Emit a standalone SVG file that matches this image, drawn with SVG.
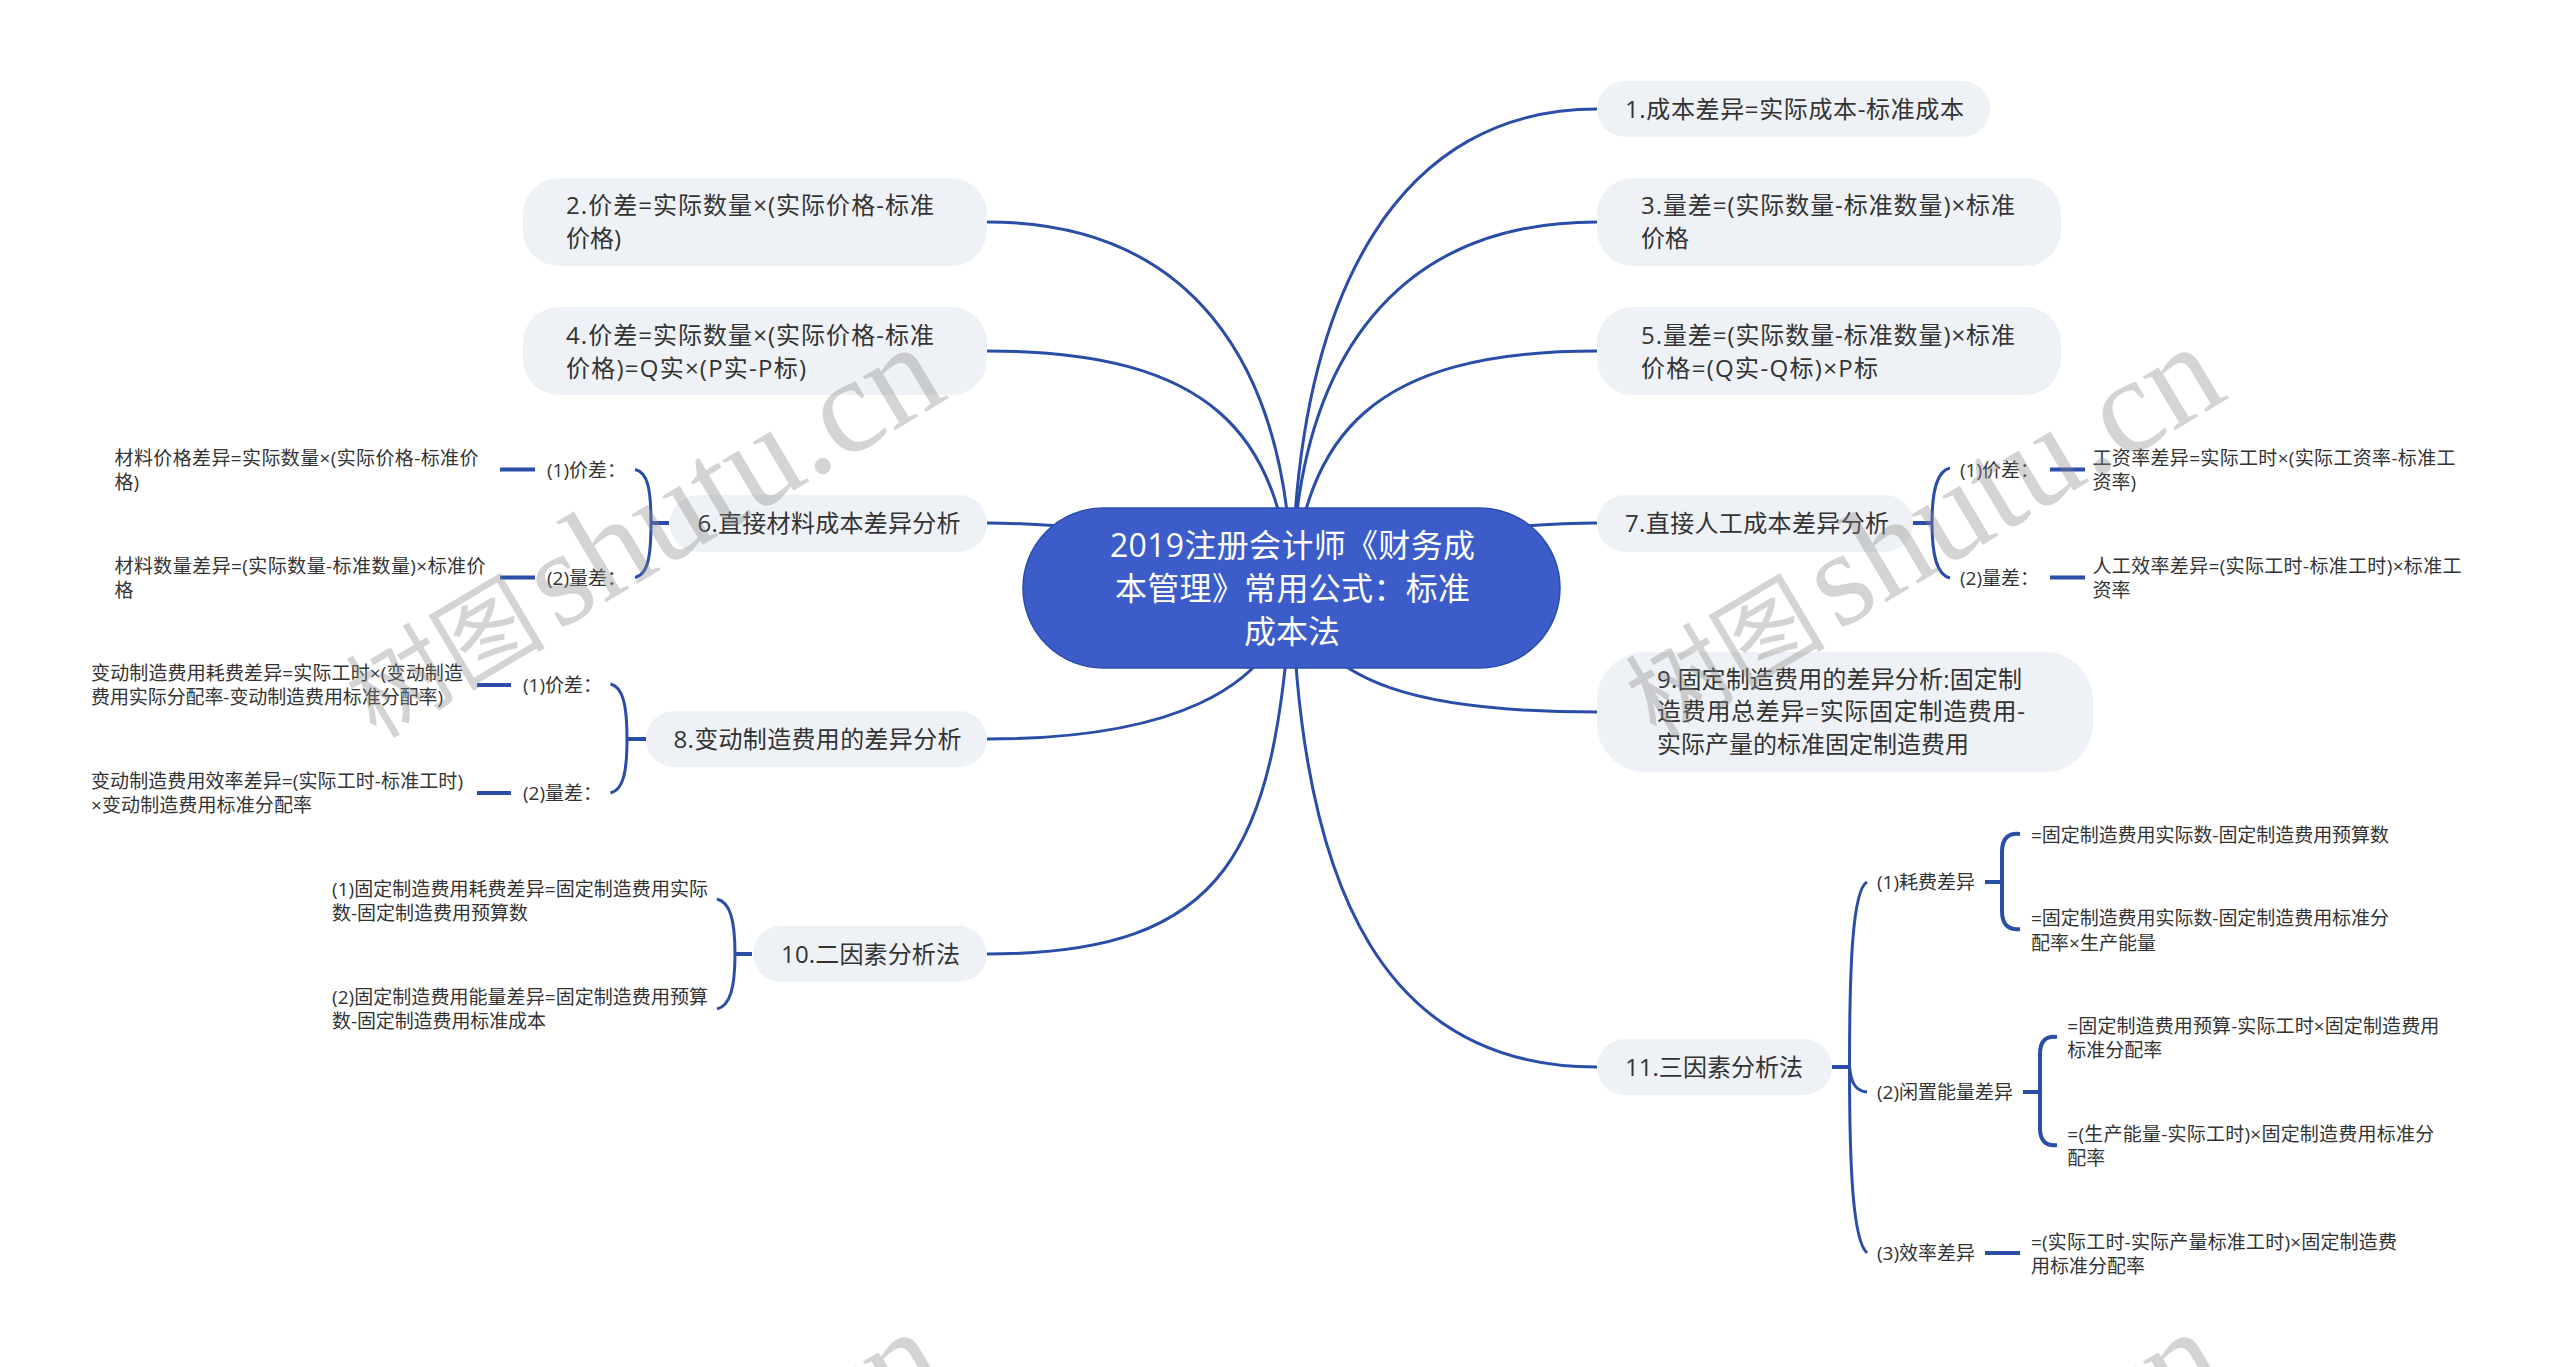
<svg xmlns="http://www.w3.org/2000/svg" width="2560" height="1367" viewBox="0 0 2560 1367">
<style>
text{font-family:"Open Sans","Noto Sans CJK SC",sans-serif;fill:#333}
.n{fill:#eef1f5}
.l1{font-size:24px}
.l2{font-size:19px}
.root{fill:#3b5cc9;stroke:#2a4da8;stroke-width:1.5}
.rt{font-size:32px;fill:#fff;text-anchor:middle}
#connectors path{fill:none;stroke:#2a4da8;stroke-width:3;stroke-linecap:butt}
#connectors .s{stroke-width:4}
.wm{font-family:"Liberation Serif","Noto Sans CJK SC",serif;font-size:136px;fill:#888;fill-opacity:.36}
.wc{font-family:"Noto Sans CJK SC",serif;font-size:100px}
</style>
<rect width="2560" height="1367" fill="#fff"/>
<g id="connectors">
<path d="M1292,588C1296,281 1405,109 1597,109"/>
<path d="M1292,588C1295,354 1400,222 1597,222"/>
<path d="M1292,588C1306,436 1370,351 1597,351"/>
<path d="M1292,588C1289,354 1184,222 987,222"/>
<path d="M1292,588C1278,436 1214,351 987,351"/>
<path d="M1597,523C1560,523 1530,525 1480,530"/>
<path d="M987,523C1024,523 1054,525 1104,530"/>
<path d="M1292,600C1270,690 1170,739 987,739"/>
<path d="M1292,600C1325,685 1420,712 1597,712"/>
<path d="M1292,588C1275,850 1230,954 987,954"/>
<path d="M1292,588C1300,900 1390,1067 1597,1067"/>
<path class="s" d="M669,523H651"/>
<path d="M635,469.5C648,472 651,490 651,523C651,556 648,575 635,577.5"/>
<path class="s" d="M535,469.5H500"/>
<path class="s" d="M535,577.5H500"/>
<path class="s" d="M646,739H627"/>
<path d="M610.5,684C623,687 627,705 627,739C627,773 623,790 610.5,793"/>
<path class="s" d="M511,685H477"/>
<path class="s" d="M511,793H477"/>
<path class="s" d="M752,954H735"/>
<path d="M717,899C730,902 735,920 735,954C735,988 730,1006 717,1009"/>
<path class="s" d="M1913,523H1932"/>
<path d="M1950,468C1937,471 1932,490 1932,523C1932,556 1937,575 1950,578"/>
<path class="s" d="M2050,469.5H2085"/>
<path class="s" d="M2050,577.5H2085"/>
<path class="s" d="M1832,1067H1849"/>
<path d="M1867,882C1853,890 1849.5,960 1849.5,1067C1849.5,1170 1853,1240 1867,1253"/>
<path d="M1849.5,1067C1851,1082 1855,1091 1867,1092"/>
<path class="s" d="M1985,882H2002"/>
<path class="s" d="M2020,834Q2002,832 2002,852V911Q2002,931 2020,929"/>
<path class="s" d="M2023,1092H2040"/>
<path class="s" d="M2057,1037Q2040,1035 2040,1054V1128Q2040,1147 2057,1145"/>
<path class="s" d="M1985,1253H2020"/>
</g>
<g id="root"><rect class="root" x="1023" y="508" width="537" height="160" rx="80"/>
<text class="rt" x="1292.5" y="557" textLength="365">2019注册会计师《财务成</text><text class="rt" x="1292.5" y="600" textLength="355">本管理》常用公式：标准</text><text class="rt" x="1292" y="643">成本法</text></g>
<g id="node1"><rect class="n" x="1597" y="81" width="393" height="56" rx="28"/><text class="l1" x="1625" y="118" textLength="339">1.成本差异=实际成本-标准成本</text></g>
<g id="node2"><rect class="n" x="523" y="178" width="464" height="88" rx="36"/><text class="l1" x="566" y="214" textLength="368">2.价差=实际数量×(实际价格-标准</text><text class="l1" x="566" y="247">价格)</text></g>
<g id="node3"><rect class="n" x="1597" y="178" width="464" height="88" rx="36"/><text class="l1" x="1641" y="214" textLength="374">3.量差=(实际数量-标准数量)×标准</text><text class="l1" x="1641" y="247">价格</text></g>
<g id="node4"><rect class="n" x="523" y="307" width="464" height="88" rx="36"/><text class="l1" x="566" y="343.5" textLength="368">4.价差=实际数量×(实际价格-标准</text><text class="l1" x="566" y="376.5" textLength="240">价格)=Q实×(P实-P标)</text></g>
<g id="node5"><rect class="n" x="1597" y="307" width="464" height="88" rx="36"/><text class="l1" x="1641" y="343.5" textLength="374">5.量差=(实际数量-标准数量)×标准</text><text class="l1" x="1641" y="376.5" textLength="237">价格=(Q实-Q标)×P标</text></g>
<g id="node6"><rect class="n" x="670" y="495" width="317" height="57" rx="28"/><text class="l1" x="697.5" y="532" textLength="263">6.直接材料成本差异分析</text></g>
<g id="node6-1"><text class="l2" x="547" y="477">(1)价差：</text></g>
<g id="node6-1-1"><text class="l2" x="114.5" y="464.5" textLength="364">材料价格差异=实际数量×(实际价格-标准价</text><text class="l2" x="114.5" y="489">格)</text></g>
<g id="node6-2"><text class="l2" x="547" y="585">(2)量差：</text></g>
<g id="node6-2-1"><text class="l2" x="114.5" y="572.5" textLength="371">材料数量差异=(实际数量-标准数量)×标准价</text><text class="l2" x="114.5" y="597">格</text></g>
<g id="node7"><rect class="n" x="1597" y="495" width="316" height="57" rx="28"/><text class="l1" x="1625" y="532" textLength="264">7.直接人工成本差异分析</text></g>
<g id="node7-1"><text class="l2" x="1960" y="477">(1)价差：</text></g>
<g id="node7-1-1"><text class="l2" x="2092.5" y="464.5" textLength="363">工资率差异=实际工时×(实际工资率-标准工</text><text class="l2" x="2092.5" y="489">资率)</text></g>
<g id="node7-2"><text class="l2" x="1960" y="585">(2)量差：</text></g>
<g id="node7-2-1"><text class="l2" x="2092.5" y="572.5" textLength="369">人工效率差异=(实际工时-标准工时)×标准工</text><text class="l2" x="2092.5" y="597">资率</text></g>
<g id="node8"><rect class="n" x="646" y="711" width="341" height="56" rx="28"/><text class="l1" x="673.5" y="748" textLength="288">8.变动制造费用的差异分析</text></g>
<g id="node8-1"><text class="l2" x="523" y="692">(1)价差：</text></g>
<g id="node8-1-1"><text class="l2" x="91" y="679.7" textLength="372">变动制造费用耗费差异=实际工时×(变动制造</text><text class="l2" x="91" y="704.2" textLength="352">费用实际分配率-变动制造费用标准分配率)</text></g>
<g id="node8-2"><text class="l2" x="523" y="800">(2)量差：</text></g>
<g id="node8-2-1"><text class="l2" x="91" y="787.7" textLength="372">变动制造费用效率差异=(实际工时-标准工时)</text><text class="l2" x="91" y="812.2" textLength="221">×变动制造费用标准分配率</text></g>
<g id="node9"><rect class="n" x="1597" y="652" width="496" height="120" rx="48"/><text class="l1" x="1657" y="687.5" textLength="365">9.固定制造费用的差异分析:固定制</text><text class="l1" x="1657" y="720" textLength="368">造费用总差异=实际固定制造费用-</text><text class="l1" x="1657" y="752.5">实际产量的标准固定制造费用</text></g>
<g id="node10"><rect class="n" x="753" y="926" width="234" height="56" rx="28"/><text class="l1" x="781" y="963" textLength="179">10.二因素分析法</text></g>
<g id="node10-1"><text class="l2" x="332" y="895.7" textLength="376">(1)固定制造费用耗费差异=固定制造费用实际</text><text class="l2" x="332" y="920.2" textLength="196">数-固定制造费用预算数</text></g>
<g id="node10-2"><text class="l2" x="332" y="1003.7" textLength="376">(2)固定制造费用能量差异=固定制造费用预算</text><text class="l2" x="332" y="1028.2" textLength="214">数-固定制造费用标准成本</text></g>
<g id="node11"><rect class="n" x="1597" y="1039" width="235" height="56" rx="28"/><text class="l1" x="1625" y="1076" textLength="178">11.三因素分析法</text></g>
<g id="node11-1"><text class="l2" x="1877" y="888.7">(1)耗费差异</text></g>
<g id="node11-1-1"><text class="l2" x="2031" y="842" textLength="358">=固定制造费用实际数-固定制造费用预算数</text></g>
<g id="node11-1-2"><text class="l2" x="2031" y="925.3" textLength="358">=固定制造费用实际数-固定制造费用标准分</text><text class="l2" x="2031" y="949.7" textLength="125">配率×生产能量</text></g>
<g id="node11-2"><text class="l2" x="1877" y="1099">(2)闲置能量差异</text></g>
<g id="node11-2-1"><text class="l2" x="2067.3" y="1033" textLength="372">=固定制造费用预算-实际工时×固定制造费用</text><text class="l2" x="2067.3" y="1057">标准分配率</text></g>
<g id="node11-2-2"><text class="l2" x="2067.3" y="1141" textLength="367">=(生产能量-实际工时)×固定制造费用标准分</text><text class="l2" x="2067.3" y="1165">配率</text></g>
<g id="node11-3"><text class="l2" x="1877" y="1260">(3)效率差异</text></g>
<g id="node11-3-1"><text class="l2" x="2031" y="1248.7" textLength="366">=(实际工时-实际产量标准工时)×固定制造费</text><text class="l2" x="2031" y="1273">用标准分配率</text></g>
<g id="watermark">
<text class="wm" transform="translate(376,739.5) rotate(-30.8)"><tspan class="wc">树图</tspan><tspan dx="-22"> shutu.cn</tspan></text>
<text class="wm" transform="translate(1656,739.5) rotate(-30.8)"><tspan class="wc">树图</tspan><tspan dx="-22"> shutu.cn</tspan></text>
<text class="wm" transform="translate(376,1724.5) rotate(-30.8)"><tspan class="wc">树图</tspan><tspan dx="-22"> shutu.cn</tspan></text>
<text class="wm" transform="translate(1656,1724.5) rotate(-30.8)"><tspan class="wc">树图</tspan><tspan dx="-22"> shutu.cn</tspan></text>
</g>
</svg>
